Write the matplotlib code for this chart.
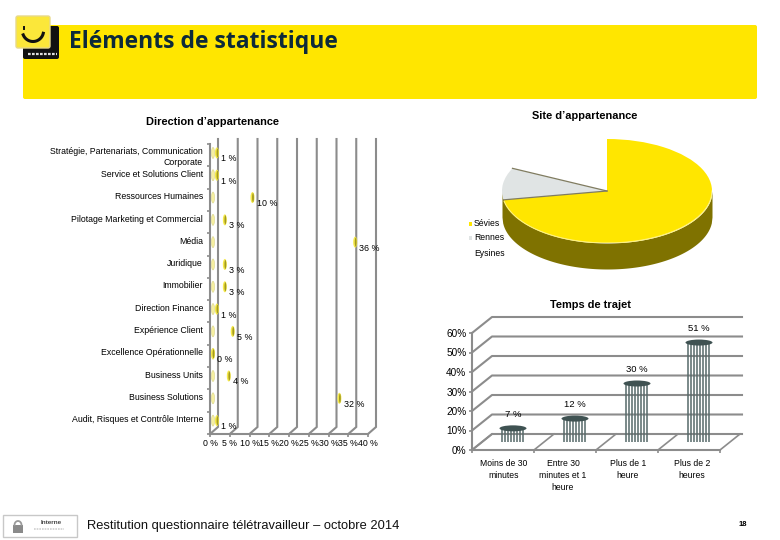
"""Eléments de statistique slide: direction bars, site pie, commute columns."""
import matplotlib
matplotlib.use("Agg")
import matplotlib.pyplot as plt
import numpy as np
from matplotlib.patches import Ellipse, FancyBboxPatch, Rectangle

plt.rcParams["font.family"] = ["Liberation Sans", "DejaVu Sans"]

W, H = 780, 540

directions = [
    "Stratégie, Partenariats, Communication\nCorporate",
    "Service et Solutions Client",
    "Ressources Humaines",
    "Pilotage Marketing et Commercial",
    "Média",
    "Juridique",
    "Immobilier",
    "Direction Finance",
    "Expérience Client",
    "Excellence Opérationnelle",
    "Business Units",
    "Business Solutions",
    "Audit, Risques et Contrôle Interne",
]
direction_pct = [1, 1, 10, 3, 36, 3, 3, 1, 5, 0, 4, 32, 1]
direction_ticks = [0, 5, 10, 15, 20, 25, 30, 35, 40]

sites = ["Sévies", "Rennes", "Eysines"]
site_pct = [73, 10, 18]
site_colors = ["#ffe600", "#e0e4e4", "#ffffff"]

trajets = ["Moins de 30\nminutes", "Entre 30\nminutes et 1\nheure", "Plus de 1\nheure", "Plus de 2\nheures"]
trajet_pct = [7, 12, 30, 51]
trajet_ticks = [0, 10, 20, 30, 40, 50, 60]

GRID = "#8c8c8c"
YELLOW = "#ffe600"
OLIVE = "#7f7200"


def px_axes(fig, left, top, right, bottom):
    return fig.add_axes([left / W, 1 - bottom / H, (right - left) / W, (bottom - top) / H])


fig = plt.figure(figsize=(W / 100, H / 100), dpi=100, facecolor="white")

# slide furniture, in pixels
bg = fig.add_axes([0, 0, 1, 1], zorder=0)
bg.set_xlim(0, W)
bg.set_ylim(H, 0)
bg.axis("off")


def round_box(left, top, right, bottom, color, edge="none", r=2, z=1):
    bg.add_patch(FancyBboxPatch((left + r, top + r), right - left - 2 * r, bottom - top - 2 * r,
                                boxstyle=f"round,pad={r}", fc=color, ec=edge, lw=1, zorder=z))


round_box(23, 25, 757, 99, YELLOW)
round_box(23, 26, 59, 59, "#111111", z=2)
round_box(16, 16, 50, 48, "#fbe73a", edge="#e8d98a", z=3)
t = np.linspace(np.pi * 1.12, np.pi * 1.93, 40)
bg.plot(33 + 10.5 * np.cos(t), 31 - 10.5 * np.sin(t), color="#111111", lw=2.2, zorder=4)
bg.plot([24, 24], [27, 29], color="#111111", lw=1.4, zorder=4)
bg.plot([28, 57], [54, 54], color="#dddddd", lw=1.6, ls=(0, (1.2, 0.6)), zorder=4)

bg.text(69, 42, "Eléments de statistique", fontsize=16.5, fontweight="bold", family="Open Sans",
        color="#0d2a3a", va="center", ha="left", zorder=5)

bg.text(213, 122, "Direction d’appartenance", fontsize=7.9, fontweight="bold", ha="center", va="center")
bg.text(585, 116, "Site d’appartenance", fontsize=7.9, fontweight="bold", ha="center", va="center")
bg.text(590, 305, "Temps de trajet", fontsize=7.9, fontweight="bold", ha="center", va="center")

# footer
bg.add_patch(Rectangle((3, 515), 74, 22, fc="white", ec="#c8c8c8", lw=1))
bg.add_patch(Rectangle((13, 525), 10, 8, fc="#8a8a8a", ec="none"))
t = np.linspace(0, np.pi, 20)
bg.plot(18 + 3.5 * np.cos(t), 525 - 4 * np.sin(t), color="#9a9a9a", lw=1.3)
bg.text(51, 522, "Interne", fontsize=4.6, fontweight="bold", color="#444444", ha="center", va="center")
bg.plot([34, 64], [529, 529], color="#d0d0d0", lw=1.2, ls=(0, (1, 0.6)))
bg.text(87, 526, "Restitution questionnaire télétravailleur – octobre 2014", fontsize=9.25,
        color="#111111", ha="left", va="center")
bg.text(743, 525, "18", fontsize=5.5, fontweight="bold", ha="center", va="center")

# --- direction bars ---
ax = px_axes(fig, 210, 144, 368, 434)
ax.patch.set_alpha(0)
n = len(directions)
ax.set_xlim(0, 40)
ax.set_ylim(n, 0)
px_x = 40 / 158
px_y = n / 290
for s in ["top", "right"]:
    ax.spines[s].set_visible(False)
for s in ["left", "bottom"]:
    ax.spines[s].set_color(GRID)
    ax.spines[s].set_linewidth(1.5)
ax.set_xticks(direction_ticks)
ax.set_xticklabels([f"{v} %" for v in direction_ticks], fontsize=6.3)
label_y = np.arange(n) + 0.32
label_y[0] = 0.5
ax.set_yticks(label_y)
ax.set_yticklabels(directions, fontsize=6.35, ha="right", linespacing=1.2)
ax.set_yticks(np.arange(n + 1), minor=True)
ax.tick_params(axis="y", which="major", length=0, pad=5)
ax.tick_params(axis="y", which="minor", length=2.5, color=GRID, width=1.2)
ax.tick_params(axis="x", length=2, color=GRID, width=1.2, pad=1.8)
for v in direction_ticks:
    ax.plot([v, v + 8 * px_x, v + 8 * px_x], [n, n - 7 * px_y, -5 * px_y], color=GRID, lw=1.5,
            clip_on=False, zorder=1, solid_joinstyle="miter")
tip_shift = 3 * px_x
for i, v in enumerate(direction_pct):
    yc = i + 0.4
    # pale base cap, then the value cap
    ax.add_patch(Ellipse((tip_shift, yc), 3 * px_x, 11 * px_y, fc="#f6efa0", ec="#d8d48a", lw=0.4, zorder=3,
                         clip_on=False))
    ax.add_patch(Ellipse((v + tip_shift, yc), 4 * px_x, 11 * px_y, fc="#f5e94a", ec="none", zorder=4,
                         clip_on=False))
    ax.add_patch(Ellipse((v + tip_shift + 0.5 * px_x, yc), 1.8 * px_x, 9 * px_y, fc="#a39a20", ec="none", zorder=5,
                         clip_on=False))
    ax.annotate(f"{v} %", (v + tip_shift, yc), xytext=(3, -6 * 0.72), textcoords="offset points",
                fontsize=6.4, va="center", ha="left", zorder=6, annotation_clip=False)

# --- site pie ---
pie_ax = px_axes(fig, 502, 139, 712, 243)
wedges, _ = pie_ax.pie(site_pct, colors=site_colors, startangle=90, counterclock=False,
                       wedgeprops={"linewidth": 0})
pie_ax.set_aspect("auto")
pie_ax.set_xlim(-1, 1)
pie_ax.set_ylim(-1, 1)
xs = np.linspace(-1, 1, 300)
rim = -np.sqrt(1 - xs ** 2)
depth = 26 / 52
pie_ax.fill_between(xs, rim, rim - depth, color=OLIVE, lw=0, clip_on=False, zorder=0)
pie_ax.plot(xs[xs > -0.98], rim[xs > -0.98], color="#fff27a", lw=0.8, zorder=3)
for wedge in wedges[:2]:
    a = np.deg2rad(wedge.theta1)
    pie_ax.plot([0, np.cos(a)], [0, np.sin(a)], color="#807c60", lw=0.9, zorder=3)
pie_label_xy = [(669, 216), (520, 187), (565, 157)]
for v, (x, y) in zip(site_pct, pie_label_xy):
    bg.text(x, y, f"{v} %", fontsize=6.6, ha="center", va="center", zorder=6)
legend_y = [224, 238, 253]
for name, color, y in zip(sites, site_colors, legend_y):
    bg.add_patch(Rectangle((469, y - 2), 3, 4, fc=color, ec="none"))
    bg.text(474, y, name, fontsize=6.2, ha="left", va="center")

# --- commute columns ---
col = px_axes(fig, 472, 333, 720, 450)
col.patch.set_alpha(0)
nb = len(trajets)
col.set_xlim(-0.5, nb - 0.5)
col.set_ylim(0, 60)
cpx_x = nb / 248
cpx_y = 60 / 117
dx, dy = 20 * cpx_x, 16 * cpx_y
for s in ["top", "right"]:
    col.spines[s].set_visible(False)
for s in ["left", "bottom"]:
    col.spines[s].set_color(GRID)
    col.spines[s].set_linewidth(1.5)
col.set_yticks(trajet_ticks)
col.set_yticklabels([f"{v}%" for v in trajet_ticks], fontsize=7.2)
col.set_xticks(np.arange(nb + 1) - 0.5)
col.set_xticklabels([""] * (nb + 1))
col.tick_params(axis="both", length=2, color=GRID, width=1.2, pad=2)
for v in trajet_ticks:
    col.plot([-0.5, -0.5 + dx, nb - 0.5 + 22 * cpx_x], [v, v + dy, v + dy], color=GRID, lw=1.5,
             clip_on=False, zorder=1)
for xv in np.arange(nb + 1) - 0.5:
    col.plot([xv, xv + dx], [0, dy], color=GRID, lw=1.2, clip_on=False, zorder=1)
xlabel_x = [504, 563, 628, 692]
for name, x in zip(trajets, xlabel_x):
    bg.text(x, 459, name, fontsize=6.2, ha="center", va="top", linespacing=1.45)
stripe_px = np.array([-11, -8, -5, -2, 1, 4, 7, 10])
for i, v in enumerate(trajet_pct):
    xc = i + dx / 2
    yb = dy / 2
    col.vlines(xc + stripe_px * cpx_x, yb, yb + v, color="#566a6a", lw=1.1, zorder=3, clip_on=False)
    col.add_patch(Ellipse((xc, yb + v), 27 * cpx_x, 6 * cpx_y, fc="#3f5252", ec="none", zorder=4, clip_on=False))
    col.annotate(f"{v} %", (xc, yb + v), xytext=(0, 14 * 0.72), textcoords="offset points",
                 fontsize=6.8, ha="center", va="center", zorder=6, annotation_clip=False)

fig.savefig("out.png", dpi=100)
